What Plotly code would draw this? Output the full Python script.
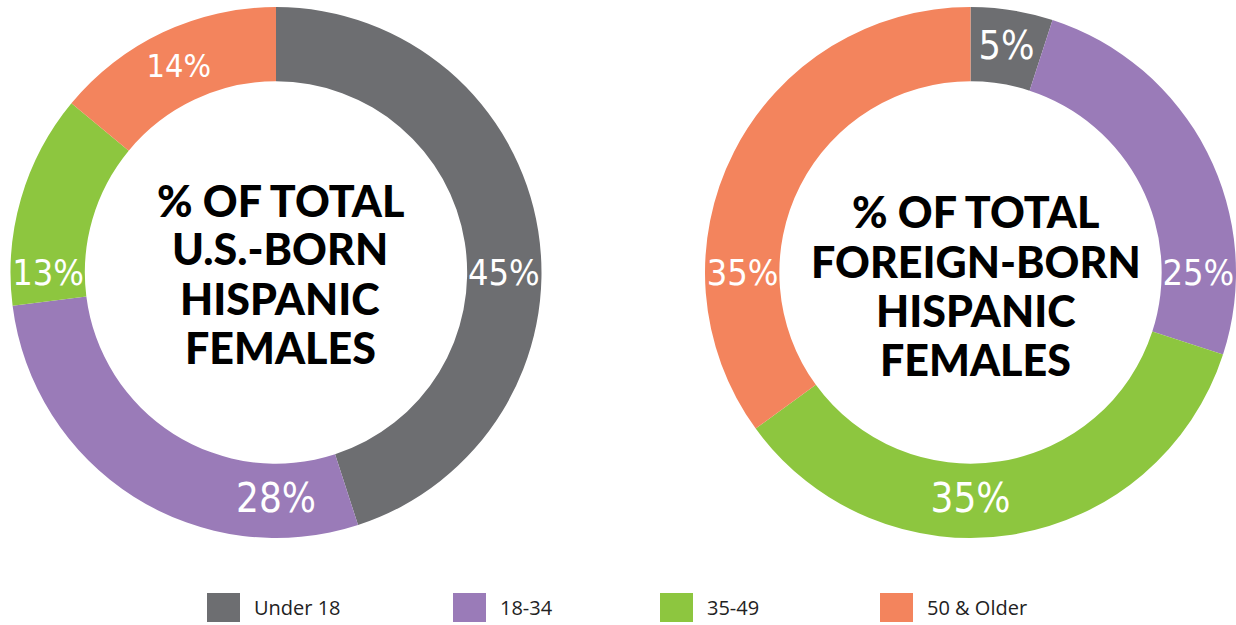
import plotly.graph_objects as go

categories = ["Under 18", "18-34", "35-49", "50 & Older"]
us_born = [45, 28, 13, 14]
foreign_born = [5, 25, 35, 35]
colors = ["#6d6e71", "#9a7bb8", "#8dc63f", "#f3845d"]
title_lines = [["% OF TOTAL", "U.S.-BORN", "HISPANIC", "FEMALES"],
               ["% OF TOTAL", "FOREIGN-BORN", "HISPANIC", "FEMALES"]]

W, H = 1236, 625
fig = go.Figure()

def pie(values, xdom):
    return go.Pie(
        labels=categories, values=values, sort=False, direction="clockwise",
        rotation=0, hole=0.72,
        marker=dict(colors=colors, line=dict(width=0)),
        texttemplate="%{value}%", textposition="inside",
        insidetextorientation="horizontal",
        textfont=dict(family="DejaVu Sans Condensed, Liberation Sans Narrow, Roboto, sans-serif",
                      size=40, color="white"),
        domain=dict(x=xdom, y=[1 - 538 / H, 1 - 7 / H]),
        showlegend=False, hoverinfo="label+value",
    )

fig.add_trace(pie(us_born, [10 / W, 542 / W]))
fig.add_trace(pie(foreign_born, [705 / W, 1236 / W]))

# center titles (one annotation per line for tight line spacing)
for lines, cx, y0 in [(title_lines[0], 280, 200), (title_lines[1], 976, 212)]:
    for i, ln in enumerate(lines):
        fig.add_annotation(
            text=ln, x=cx / W, y=1 - (y0 + 49 * i) / H, xref="paper", yref="paper",
            xanchor="center", yanchor="middle",
            showarrow=False, align="center",
            font=dict(family="Lato", size=43, color="#000000", weight=900),
        )

# legend
leg_x = [207, 453, 660, 880]
for name, col, lx in zip(categories, colors, leg_x):
    fig.add_shape(type="rect", xref="paper", yref="paper",
                  x0=lx / W, x1=(lx + 33) / W, y0=1 - 622 / H, y1=1 - 593 / H,
                  fillcolor=col, line=dict(width=0))
    fig.add_annotation(text=name, x=(lx + 45) / W, y=1 - 607 / H,
                       xref="paper", yref="paper", xanchor="left", yanchor="middle",
                       showarrow=False,
                       font=dict(family="Open Sans", size=20, color="#222222"))

fig.update_layout(
    width=W, height=H, margin=dict(l=0, r=0, t=0, b=0),
    paper_bgcolor="white", plot_bgcolor="white",
)
fig.write_html("out.html", config={"displayModeBar": False},
               post_script="document.body.style.margin='0';document.body.style.overflow='hidden';")
